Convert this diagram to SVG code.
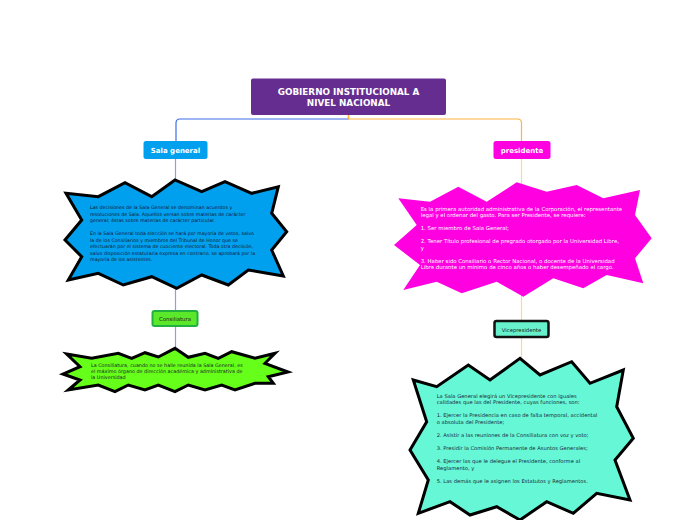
<svg xmlns="http://www.w3.org/2000/svg" width="697" height="520" viewBox="0 0 697 520">
<style>
.t{font-family:"DejaVu Sans",Verdana,sans-serif}
.lbl{font-family:"DejaVu Sans",Verdana,sans-serif;font-weight:bold;fill:#fff;text-anchor:middle}
.burst{stroke:#000;stroke-width:3;stroke-linejoin:miter}
.c{fill:none;stroke-width:1.2}
</style>
<rect width="697" height="520" fill="#fff"/>
<g id="connectors">
<path class="c" d="M348.5,115 V119 H180 Q176,119 176,123 V141" stroke="#3d6ee8"/>
<path class="c" d="M348.5,115 V119 H517.5 Q521.5,119 521.5,123 V141" stroke="#ffb240"/>
<path class="c" d="M175.5,159 V311" stroke="#8c9cf0"/>
<path class="c" d="M175.5,326 V352" stroke="#8c9cf0"/>
<path class="c" d="M521.5,159 V321" stroke="#ffd49a"/>
<path class="c" d="M521.5,337 V362" stroke="#ffd49a"/>
</g>
<g id="title">
<rect x="251" y="78.5" width="195" height="36.5" rx="2" fill="#662d91"/>
<text class="lbl" font-size="8.8" x="348.5" y="94.9">GOBIERNO INSTITUCIONAL A</text>
<text class="lbl" font-size="8.8" x="348.5" y="106.2">NIVEL NACIONAL</text>
</g>
<g id="sala-general">
<rect x="143.5" y="141" width="64" height="18" rx="2.5" fill="#00a0ee"/>
<text class="lbl" font-size="7" x="175.5" y="153.2">Sala general</text>
</g>
<g id="presidente">
<rect x="493.5" y="141" width="57" height="18" rx="2.5" fill="#ff00e1"/>
<text class="lbl" font-size="7" x="522" y="153.2">presidente</text>
</g>
<g id="sala-general-texto">
<polygon class="burst" fill="#00a0ee" points="66,193.3 98.3,196.7 125,182.7 151.7,196.7 175,180 201.7,191.7 225,181.7 251.7,193.3 278.3,186.7 271.7,213.3 286.7,231.7 271.7,250 283.3,276 248.3,270 228.3,285 201.7,275 176.7,288.3 151.7,276.7 123.3,285 98.3,273.3 68.3,280 81.7,256.7 65,240 81.7,220"/>
<text class="t" font-size="4.75" fill="#1a1a2e">
<tspan x="90" y="209">Las decisiones de la Sala General se denominan acuerdos y</tspan>
<tspan x="90" y="215.5">resoluciones de Sala. Aquellos versan sobre materias de carácter</tspan>
<tspan x="90" y="222">general; éstas sobre materias de carácter particular.</tspan>
<tspan x="90" y="235">En la Sala General toda elección se hará por mayoría de votos, salvo</tspan>
<tspan x="90" y="241.5">la de los Consiliarios y miembros del Tribunal de Honor que se</tspan>
<tspan x="90" y="248">efectuarán por el sistema de cuociente electoral. Toda otra decisión,</tspan>
<tspan x="90" y="254.5">salvo disposición estatutaria expresa en contrario, se aprobará por la</tspan>
<tspan x="90" y="261">mayoría de los asistentes.</tspan>
</text>
</g>
<g id="presidente-texto">
<polygon fill="#ff00e1" points="398.3,198.3 430,201.7 458.3,186.7 486.7,201.7 516.7,182.3 546.7,191.7 576.7,185 603.3,198.3 640,190 635,215 651.7,238.3 635,258.3 643.3,283.3 606.7,275 583.3,288.3 553.3,278.3 523.3,296.7 496.7,281.7 461.7,293.3 436.7,281.7 403.3,290 420,265 394,245 416.7,225"/>
<text class="t" font-size="5.4" fill="#fff">
<tspan x="420.7" y="210.8">Es la primera autoridad administrativa de la Corporación, el representante</tspan>
<tspan x="420.7" y="217.3">legal y el ordenar del gasto. Para ser Presidente, se requiere:</tspan>
<tspan x="420.7" y="230.3">1. Ser miembro de Sala General;</tspan>
<tspan x="420.7" y="243.3">2. Tener Título profesional de pregrado otorgado por la Universidad Libre,</tspan>
<tspan x="420.7" y="249.8">y</tspan>
<tspan x="420.7" y="262.8">3. Haber sido Consiliario o Rector Nacional, o docente de la Universidad</tspan>
<tspan x="420.7" y="269.3">Libre durante un mínimo de cinco años o haber desempeñado el cargo.</tspan>
</text>
</g>
<g id="consiliatura">
<rect x="152.5" y="311" width="45" height="15" rx="2" fill="#5ce82a" stroke="#22b040" stroke-width="2"/>
<text class="t" font-size="5.4" fill="#1a1a1a" text-anchor="middle" x="175" y="321.2">Consiliatura</text>
</g>
<g id="consiliatura-texto">
<polygon class="burst" fill="#66ff19" points="66.7,354 91.7,358.3 118.3,353.3 131.7,358.3 145,352.7 158.3,357 175,348.3 188.3,357.3 205,353.3 218.3,358.3 231.7,351.7 255,358.3 275,353.3 265,363.3 288,372 268.3,376.7 273.3,383.3 255,383.3 235,390 221.7,385 205,390 188.3,385 175,391.7 158.3,385 145,390 128.3,385 115,391.7 98.3,385 68.3,390 80,380 63,374 80,366.7"/>
<text class="t" font-size="4.85" fill="#1a1a2e">
<tspan x="91" y="366.7">La Consiliatura, cuando no se halle reunida la Sala General, es</tspan>
<tspan x="91" y="372.6">el máximo órgano de dirección académica y administrativa de</tspan>
<tspan x="91" y="378.5">la Universidad</tspan>
</text>
</g>
<g id="vicepresidente">
<rect x="494.5" y="321" width="54" height="16" rx="2" fill="#66f0cc" stroke="#111" stroke-width="2.5"/>
<text class="t" font-size="5.3" fill="#1a1a1a" text-anchor="middle" x="521.5" y="331.9">Vicepresidente</text>
</g>
<g id="vicepresidente-texto">
<polygon class="burst" fill="#66f7d6" points="413.3,380 436.7,386.7 468.3,365 490,380 520,358.3 540,375 571.7,361.7 590,383.3 623.3,370 616.7,406.7 633.3,438.3 615,460 630,500 596.7,493.3 573.3,513.3 546.7,501.7 520,520 496.7,506.7 470,515 450,501.7 418.3,513.3 428.3,480 410,450 426.7,421.7"/>
<text class="t" font-size="5.2" fill="#1a2a3a">
<tspan x="436.7" y="397.5">La Sala General elegirá un Vicepresidente con iguales</tspan>
<tspan x="436.7" y="404">calidades que las del Presidente, cuyas funciones, son:</tspan>
<tspan x="436.7" y="417.1">1. Ejercer la Presidencia en caso de falta temporal, accidental</tspan>
<tspan x="436.7" y="423.7">o absoluta del Presidente;</tspan>
<tspan x="436.7" y="436.8">2. Asistir a las reuniones de la Consiliatura con voz y voto;</tspan>
<tspan x="436.7" y="449.9">3. Presidir la Comisión Permanente de Asuntos Generales;</tspan>
<tspan x="436.7" y="463">4. Ejercer las que le delegue el Presidente, conforme al</tspan>
<tspan x="436.7" y="469.6">Reglamento, y</tspan>
<tspan x="436.7" y="482.7">5. Las demás que le asignen los Estatutos y Reglamentos.</tspan>
</text>
</g>
</svg>
